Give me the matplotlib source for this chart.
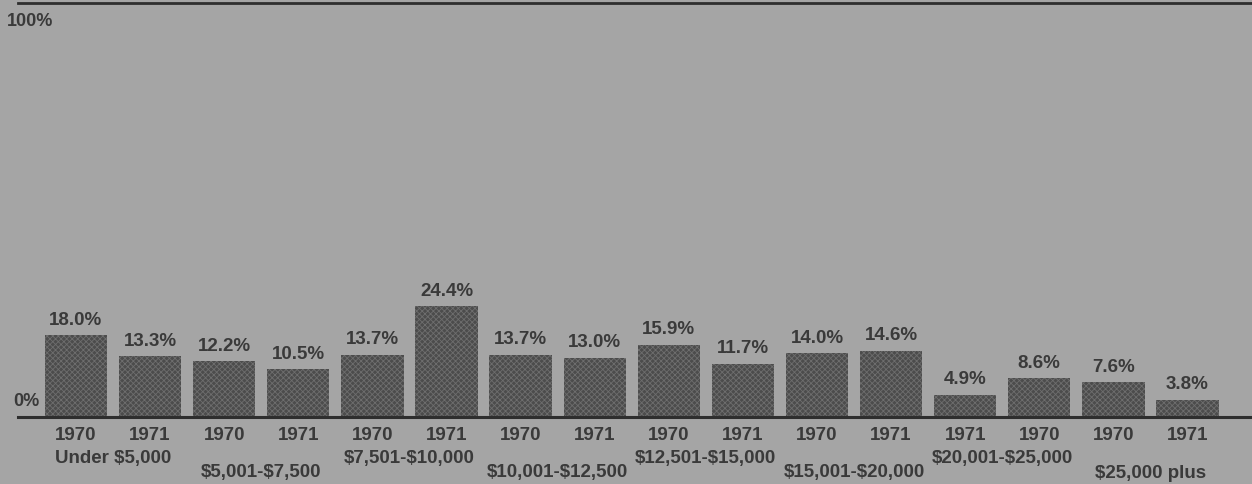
import matplotlib.pyplot as plt
import numpy as np

plt.rcParams['font.family'] = ['Liberation Sans', 'DejaVu Sans']
plt.rcParams['text.parse_math'] = False
plt.rcParams['hatch.linewidth'] = 0.6

years = ['1970', '1971', '1970', '1971', '1970', '1971', '1970', '1971',
         '1970', '1971', '1970', '1971', '1971', '1970', '1970', '1971']
shares = [18.0, 13.3, 12.2, 10.5, 13.7, 24.4, 13.7, 13.0,
          15.9, 11.7, 14.0, 14.6, 4.9, 8.6, 7.6, 3.8]
groups = ['Under $5,000', '$5,001-$7,500', '$7,501-$10,000', '$10,001-$12,500',
          '$12,501-$15,000', '$15,001-$20,000', '$20,001-$25,000', '$25,000 plus']

BG = '#a5a5a5'
BAR = '#4c4c4c'
INK = '#3a3a3a'

fig = plt.figure(figsize=(12.52, 4.84), dpi=100, facecolor=BG)
ax = fig.add_axes([0, 0, 1, 1], facecolor=BG)

# pixel-like layout: bar pitch 74.1 px, first bar centre at 76 px, baseline 67 px from bottom
pitch = 74.1
px_per_pct = 4.55
ax.set_xlim(-76 / pitch, (1252 - 76) / pitch)
ax.set_ylim(-67 / px_per_pct, (484 - 67) / px_per_pct)
ax.axis('off')

x = np.arange(len(shares))
ax.bar(x, shares, width=0.84, color=BAR, edgecolor='#6e6e6e', hatch='xxxxxx',
       linewidth=0, zorder=2)

# baseline and top rule
left = (18 - 76) / pitch
ax.plot([left, 20], [0, 0], color='#2e2e2e', lw=2.2, zorder=3)
ax.plot([left, 20], [414 / px_per_pct, 414 / px_per_pct], color='#2e2e2e', lw=2, zorder=3)

fs = 13.5
for xi, v in zip(x, shares):
    ax.text(xi, v + 1.4, f'{v:.1f}%', ha='center', va='bottom', fontsize=fs,
            fontweight='bold', color=INK)

for xi, yr in zip(x, years):
    ax.text(xi, -18 / px_per_pct, yr, ha='center', va='center', fontsize=fs,
            fontweight='bold', color=INK)

for i, g in enumerate(groups):
    yy = -41 / px_per_pct if i % 2 == 0 else -56 / px_per_pct
    ax.text(2 * i + 0.5, yy, g, ha='center', va='center', fontsize=fs,
            fontweight='bold', color=INK)

fig.text(7 / 1252, 1 - 21 / 484, '100%', ha='left', va='center', fontsize=13,
         fontweight='bold', color=INK)
fig.text(13 / 1252, 1 - 402 / 484, '0%', ha='left', va='center', fontsize=13,
         fontweight='bold', color=INK)

fig.savefig('out.png', dpi=100, facecolor=BG)
